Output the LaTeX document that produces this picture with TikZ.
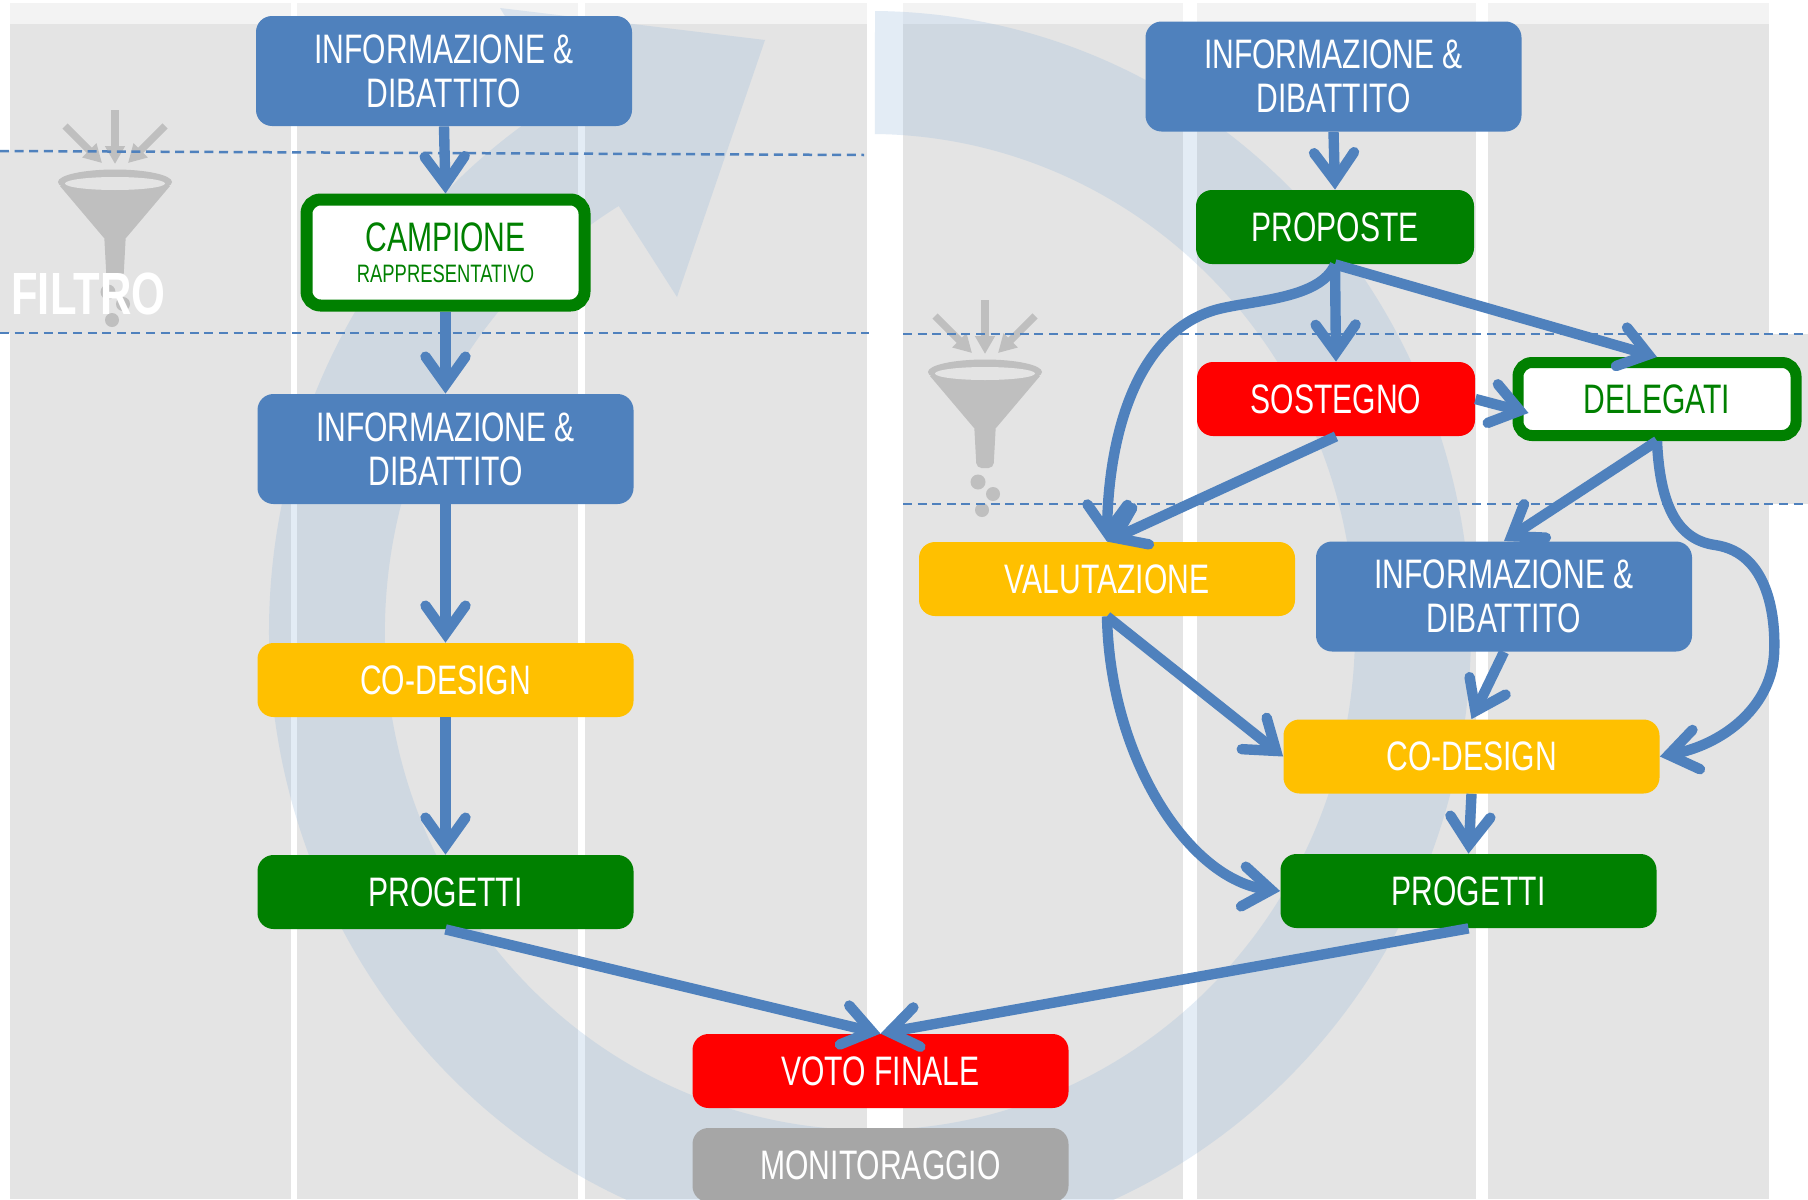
\documentclass[tikz,border=0pt]{standalone}
\usepackage{fontspec}
\setmainfont[FakeStretch=0.73]{Liberation Sans}
\usetikzlibrary{arrows.meta}
\definecolor{ablue}{HTML}{4F81BD}
\definecolor{agreen}{HTML}{008000}
\definecolor{ayellow}{HTML}{FFC000}
\definecolor{ared}{HTML}{FF0000}
\definecolor{agray}{HTML}{A6A6A6}
\definecolor{panel}{HTML}{E4E4E4}
\definecolor{topc}{HTML}{F3F3F3}
\definecolor{func}{HTML}{BFBFBF}
\definecolor{bandc}{RGB}{147,182,220}
\newcommand\boxfont{\fontsize{20.6pt}{22pt}\selectfont}
\newcommand\myfunnel[1]{%
\begin{scope}[shift={#1}]
\fill[func] (0,0) ellipse[x radius=57, y radius=12.5];
\fill[func] (-55,4) -- (55,4) -- (11,56) -- (-11,56) -- cycle;
\fill[func, rounded corners=2.5pt] (-11,50) -- (11,50) -- (8.5,96) -- (-8.5,96) -- cycle;
\fill[panel] (0,1.5) ellipse[x radius=50, y radius=6.5];
\draw[funnelarrow] (0,-72) -- (0,-18);
\draw[funnelarrow] (-50,-56) -- (-13,-19);
\draw[funnelarrow] (50,-56) -- (13,-19);
\fill[func] (-7,110) circle[radius=7.5];
\fill[func] (8,122) circle[radius=7];
\fill[func] (-3,138) circle[radius=7];
\end{scope}}
\tikzset{
  funnelarrow/.style={draw=func, line width=3.6pt, -{Triangle[length=9pt,width=9.5pt]}},
  dline/.style={draw=ablue, line width=1.25pt, dash pattern=on 4.5pt off 2.8pt},
  box/.style={rounded corners=8pt, minimum width=188pt, inner sep=0pt, text=white, font=\boxfont, align=center},
  big/.style={box, minimum height=55pt},
  small/.style={box, minimum height=37pt},
  narrow/.style={box, minimum height=37pt, minimum width=139pt},
  frame/.style={draw=agreen, fill=white, text=agreen, rounded corners=7pt, inner sep=0pt, align=center, minimum width=139pt},
  conn/.style={draw=ablue, line width=5.2pt, -{Straight Barb[length=14pt,width=20pt,line cap=round,line join=miter]}}
}
\begin{document}
\begin{tikzpicture}[x=0.5pt,y=-0.5pt]
\useasboundingbox (0,0) rectangle (1808,1199);
\clip (0,0) rectangle (1808,1199);
\fill[white] (0,0) rectangle (1808,1199);
% panels
\fill[panel] (10,3) rectangle (867,1199);
\fill[panel] (903,3) rectangle (1769,1199);
\fill[panel] (0,151) rectangle (10,333);
\fill[panel] (1769,334) rectangle (1808,504);
\fill[topc] (10,3) rectangle (867,24);
\fill[topc] (903,3) rectangle (1769,24);
\fill[white] (291,3) rectangle (297,1199);
\fill[white] (578,3) rectangle (585,1199);
\fill[white] (1183,3) rectangle (1197,1199);
\fill[white] (1476,3) rectangle (1488,1199);
% big circular arrow
\fill[bandc, fill opacity=0.26] (875,11) arc[start angle=-89.52, end angle=238.65, x radius=601, y radius=621]
  -- (500,8) -- (765,40) -- (677,297) -- (618.7,206)
  arc[start angle=238.8, end angle=-89.41, x radius=485, y radius=498] -- cycle;
% funnels
\myfunnel{(115,182)}
\myfunnel{(985,372)}
% dashed lines
\draw[dline] (0,151) -- (864,155);
\draw[dline] (0,333) -- (869,333);
\draw[dline] (903,334) -- (1808,334);
\draw[dline] (903,504) -- (1808,504);
\node[anchor=base west, text=white, font=\bfseries\fontsize{29.8pt}{31pt}\selectfont, inner sep=0pt] (filtro) at (11,314) {FILTRO};
% left column
\node[big, fill=ablue] (INFOa) at (444,71) {INFORMAZIONE \&\\DIBATTITO};
\node[frame, line width=6pt, minimum height=53pt, font=\fontsize{12.6pt}{15.7pt}\selectfont] (CAMP) at (445.5,252.5) {{\fontsize{20.6pt}{15.7pt}\selectfont CAMPIONE}\\RAPPRESENTATIVO};
\node[big, fill=ablue] (INFOb) at (445.5,449) {INFORMAZIONE \&\\DIBATTITO};
\node[small, fill=ayellow] (CODa) at (445.5,680) {CO-DESIGN};
\node[small, fill=agreen] (PROGa) at (445.5,892) {PROGETTI};
\node[small, fill=ared] (VOTO) at (880.5,1071) {VOTO FINALE};
\node[small, fill=agray] (MONI) at (880.5,1165) {MONITORAGGIO};
% right column
\node[big, fill=ablue] (INFOc) at (1333.5,76.5) {INFORMAZIONE \&\\DIBATTITO};
\node[narrow, fill=agreen] (PROP) at (1335,227) {PROPOSTE};
\node[narrow, fill=ared] (SOST) at (1336,399) {SOSTEGNO};
\node[frame, line width=5.5pt, minimum height=36.5pt, font=\boxfont] (DELE) at (1657,399) {DELEGATI};
\node[small, fill=ayellow] (VALU) at (1107,579) {VALUTAZIONE};
\node[big, fill=ablue] (INFOd) at (1504,596.5) {INFORMAZIONE \&\\DIBATTITO};
\node[small, fill=ayellow] (CODb) at (1471.5,756.5) {CO-DESIGN};
\node[small, fill=agreen] (PROGb) at (1468.5,891) {PROGETTI};
% connectors left
\draw[conn] (INFOa.south) -- (CAMP.north);
\draw[conn] (CAMP.south) -- (INFOb.north);
\draw[conn] (INFOb.south) -- (CODa.north);
\draw[conn] (CODa.south) -- (PROGa.north);
\draw[conn] (PROGa.south) -- (VOTO.north);
% connectors right
\draw[conn] (INFOc.south) -- (PROP.north);
\draw[conn] (PROP.south) -- (SOST.north);
\draw[conn] (PROP.south) -- (DELE.north);
\draw[conn] (PROP.south) .. controls (1320,300) and (1250,300) .. (1215,310) .. controls (1130,335) and (1108,450) .. (VALU.north);
\draw[conn] (SOST.south) -- (VALU.north);
\draw[conn] (SOST.east) -- ([shift={(16,14)}]DELE.west);
\draw[conn] (DELE.south) -- (INFOd.north);
\draw[conn] (DELE.south) .. controls (1660,510) and (1680,540) .. (1715,545) .. controls (1770,553) and (1776,620) .. (1774,655) .. controls (1770,710) and (1720,745) .. (CODb.east);
\draw[conn] (VALU.south) -- (CODb.west);
\draw[conn] (VALU.south) .. controls (1110,760) and (1190,880) .. (PROGb.west);
\draw[conn] (INFOd.south) -- (CODb.north);
\draw[conn] (CODb.south) -- (PROGb.north);
\draw[conn] (PROGb.south) -- (VOTO.north);
\end{tikzpicture}
\end{document}
